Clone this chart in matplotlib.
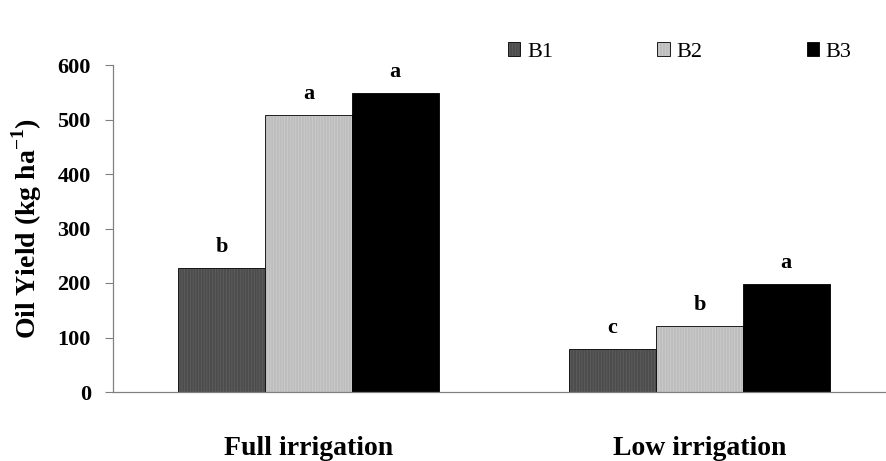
import matplotlib.pyplot as plt
import numpy as np

plt.rcParams['font.family'] = ['Liberation Serif', 'DejaVu Serif']
plt.rcParams['hatch.linewidth'] = 0.4
plt.rcParams['mathtext.fontset'] = 'custom'
plt.rcParams['mathtext.rm'] = 'Liberation Serif:bold'
plt.rcParams['mathtext.bf'] = 'Liberation Serif:bold'

categories = ["Full irrigation", "Low irrigation"]
series_names = ["B1", "B2", "B3"]
b1 = [227, 79]
b2 = [508, 121]
b3 = [548, 198]
letters_b1 = ["b", "c"]
letters_b2 = ["a", "b"]
letters_b3 = ["a", "a"]

values = [b1, b2, b3]
letters = [letters_b1, letters_b2, letters_b3]
colors = ["#4d4d4d", "#bdbdbd", "#000000"]
hatch_colors = ["#666666", "#d4d4d4", "#000000"]
hatches = ["||||||", "||||||", None]

fig = plt.figure(figsize=(8.87, 4.61), dpi=100)
ax = fig.add_axes([113 / 887, 1 - 392 / 461, 1 - 113 / 887, (392 - 65) / 461])

x = np.arange(len(categories))
width = 0.222
for i, (vals, name) in enumerate(zip(values, series_names)):
    pos = x + (i - 1) * width
    bars = ax.bar(pos, vals, width, color=colors[i], edgecolor="#000000",
                  linewidth=0.6, hatch=hatches[i], label=name)
    for b in bars:
        b._hatch_color = plt.matplotlib.colors.to_rgba(hatch_colors[i])
    for p, v, t in zip(pos, vals, letters[i]):
        ax.annotate(t, (p, v), xytext=(0, 8), textcoords="offset points",
                    ha="center", va="bottom", fontsize=16, fontweight="bold")

ax.set_xlim(-0.5, 1.48)
ax.set_ylim(0, 600)
ax.set_yticks(range(0, 601, 100))
ax.set_xticks(x)
ax.set_xticklabels(categories, fontsize=20, fontweight="bold")
ax.tick_params(axis="x", length=0, pad=32)
ax.tick_params(axis="y", length=6, width=0.8, color="#808080", pad=10)
for lab in ax.get_yticklabels():
    lab.set_fontsize(16)
    lab.set_fontweight("bold")

for s in ["top", "right"]:
    ax.spines[s].set_visible(False)
for s in ["left", "bottom"]:
    ax.spines[s].set_color("#808080")
    ax.spines[s].set_linewidth(0.9)

ax.set_ylabel("Oil Yield (kg ha$^{\\mathbf{-1}}$)", fontsize=20, fontweight="bold", labelpad=10)

fig.legend(loc="center left", bbox_to_anchor=(508 / 887, 1 - 52 / 461), ncol=3,
           frameon=False, fontsize=16, handlelength=0.55, handleheight=0.55,
           handletextpad=0.3, columnspacing=4.7, borderaxespad=0, borderpad=0)

fig.savefig("out.png", dpi=100)
